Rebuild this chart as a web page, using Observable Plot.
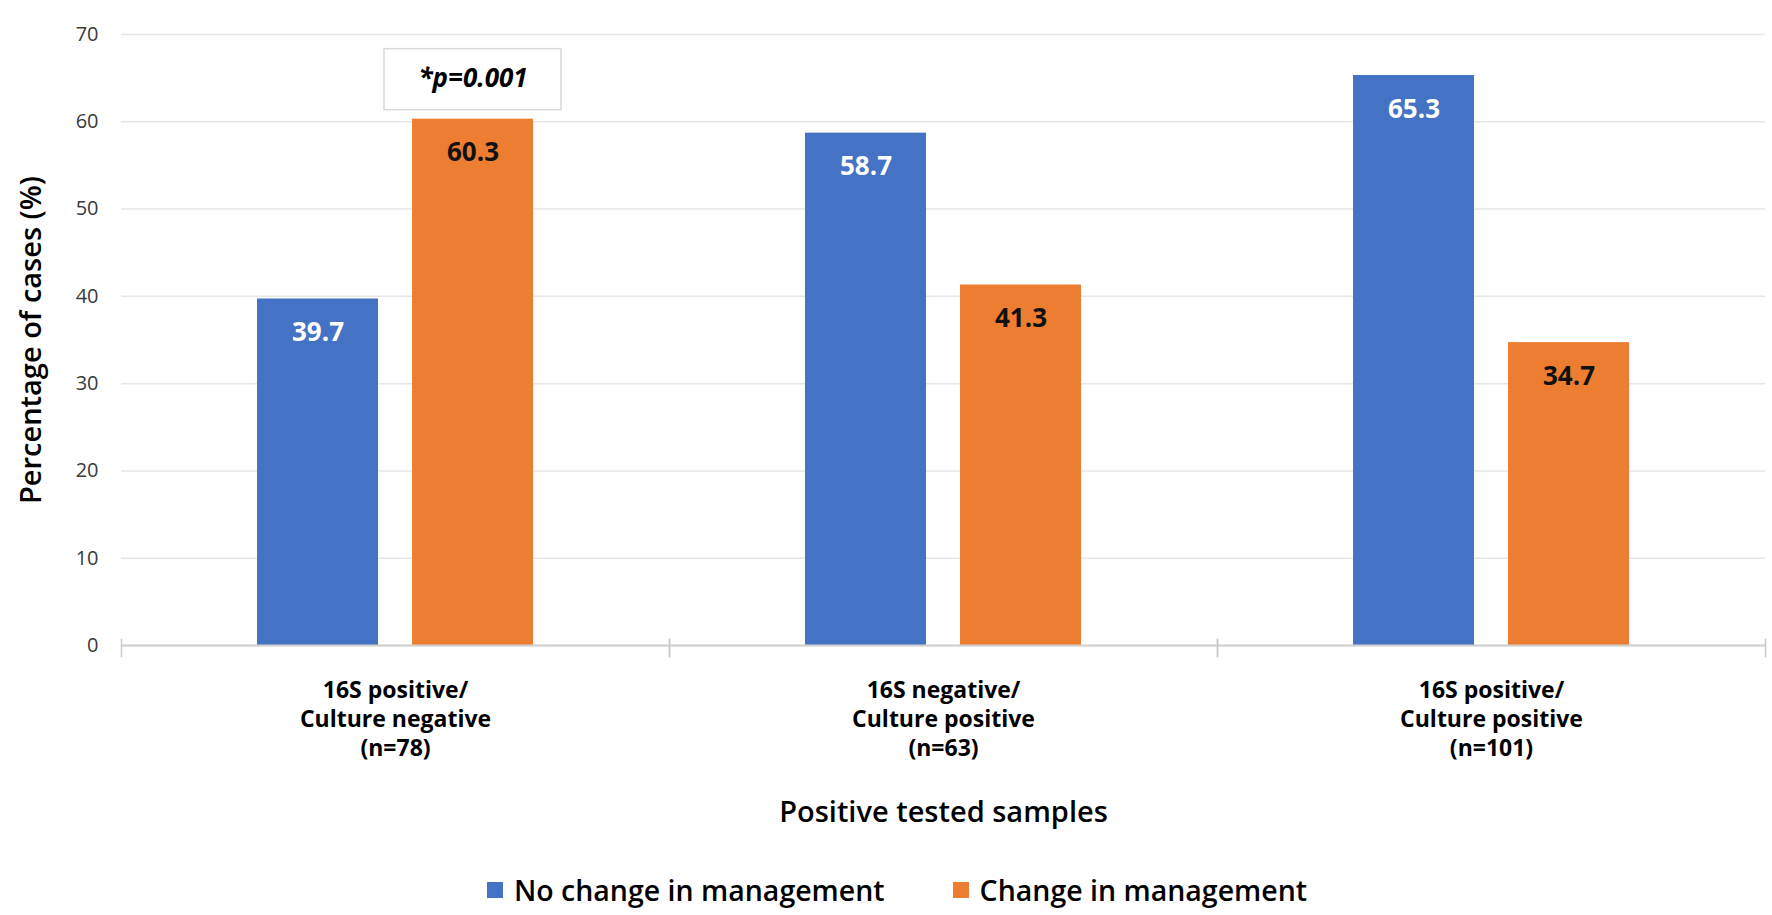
<!DOCTYPE html>
<html>
<head>
<meta charset="utf-8">
<script src="https://cdn.jsdelivr.net/npm/d3@7"></script>
<script src="https://cdn.jsdelivr.net/npm/@observablehq/plot@0.6"></script>
<style>
  html, body { margin: 0; padding: 0; background: #fff; }
  body { font-family: "Open Sans", sans-serif; width: 1772px; overflow: hidden; }
  #chart svg { display: block; }
  g[aria-label="y-axis label"], g[aria-label="y-axis label"] text,
  g[aria-label="fx-axis label"], g[aria-label="fx-axis label"] text {
    font-size: 29px; font-weight: 600; fill: #000;
  }
  #legend {
    display: flex; justify-content: center; align-items: center;
    height: 40px; margin-top: 10px; padding-left: 22px;
    font-size: 28.5px; font-weight: 600; color: #000;
  }
  #legend .item { display: flex; align-items: center; margin: 0 34px; }
  #legend .sw { width: 16px; height: 16px; margin-right: 11px; }
</style>
</head>
<body>
<div id="chart"></div>
<div id="legend"></div>
<script>
// ---- data ----
const groups = [
  "16S positive/\nCulture negative\n(n=78)",
  "16S negative/\nCulture positive\n(n=63)",
  "16S positive/\nCulture positive\n(n=101)"
];
const series = ["No change in management", "Change in management"];
const noChangeValues = [39.7, 58.7, 65.3];
const changeValues = [60.3, 41.3, 34.7];
const seriesColors = ["#4472C4", "#ED7D31"];
const yTicks = [0, 10, 20, 30, 40, 50, 60, 70];
const pLabels = ["*p=0.001"];
const pGroupIndex = [0];
const pSeriesIndex = [1];
const xTitle = "Positive tested samples";
const yTitle = "Percentage of cases (%)";

// ---- table built from arrays ----
const valuesBySeries = [noChangeValues, changeValues];
const table = [];
groups.forEach((g, gi) => {
  series.forEach((s, si) => {
    table.push({group: g, series: s, value: valuesBySeries[si][gi]});
  });
});
const pAnn = pLabels.map((label, i) => {
  const g = groups[pGroupIndex[i]], s = series[pSeriesIndex[i]];
  const row = table.find(d => d.group === g && d.series === s);
  return {group: g, series: s, value: row.value, label};
});

const chart = Plot.plot({
  width: 1772,
  height: 860,
  marginTop: 34,
  marginBottom: 215,
  marginLeft: 120,
  marginRight: 7,
  style: {fontFamily: "Open Sans, sans-serif", background: "#fff"},
  fx: {domain: groups, padding: 0},
  x: {domain: series, paddingInner: 0.218, paddingOuter: 0.872, axis: null},
  y: {domain: [0, 70]},
  color: {domain: series, range: seriesColors},
  marks: [
    Plot.gridY(yTicks, {stroke: "#e6e6e6", strokeOpacity: 1, strokeWidth: 1.5}),
    Plot.axisY(yTicks, {
      tickSize: 0, tickPadding: 23, fontSize: 20, fill: "#3a3a3a",
      label: yTitle, labelAnchor: "center", labelOffset: 101, labelArrow: "none"
    }),
    Plot.axisFx({
      anchor: "bottom", tickSize: 0, tickPadding: 32,
      fontSize: 23, fontWeight: 700, fill: "#000", lineHeight: 1.26,
      label: xTitle, labelAnchor: "center", labelOffset: 176, labelArrow: "none"
    }),
    Plot.barY(table, {fx: "group", x: "series", y: "value", fill: "series"}),
    Plot.ruleY([0], {stroke: "#cfcfcf", strokeWidth: 2}),
    Plot.frame({anchor: "left", stroke: "#c8c8c8", strokeWidth: 1.5, insetTop: 605, insetBottom: -11}),
    Plot.frame({anchor: "right", stroke: "#c8c8c8", strokeWidth: 1.5, insetTop: 605, insetBottom: -11}),
    Plot.text(table.filter(d => d.series === series[0]), {
      fx: "group", x: "series", y: "value", text: d => d.value.toFixed(1),
      dy: 34, fill: "#ffffff", fontSize: 26, fontWeight: 700
    }),
    Plot.text(table.filter(d => d.series === series[1]), {
      fx: "group", x: "series", y: "value", text: d => d.value.toFixed(1),
      dy: 34, fill: "#111111", fontSize: 26, fontWeight: 700
    }),
    Plot.barY(pAnn, {
      fx: "group", x: "series", y1: "value", y2: "value",
      insetLeft: -28, insetRight: -28, insetTop: -70, insetBottom: 9,
      fill: "#ffffff", stroke: "#d9d9d9", strokeWidth: 1.5
    }),
    Plot.text(pAnn, {
      fx: "group", x: "series", y: "value", text: "label",
      dy: -40, fill: "#000", fontSize: 26, fontWeight: 700, fontStyle: "italic"
    })
  ]
});
document.getElementById("chart").appendChild(chart);

// ---- legend (HTML, below the SVG) ----
const legend = document.getElementById("legend");
series.forEach((s, i) => {
  const item = document.createElement("div");
  item.className = "item";
  const sw = document.createElement("span");
  sw.className = "sw";
  sw.style.background = seriesColors[i];
  const label = document.createElement("span");
  label.textContent = s;
  item.appendChild(sw);
  item.appendChild(label);
  legend.appendChild(item);
});
</script>
</body>
</html>
